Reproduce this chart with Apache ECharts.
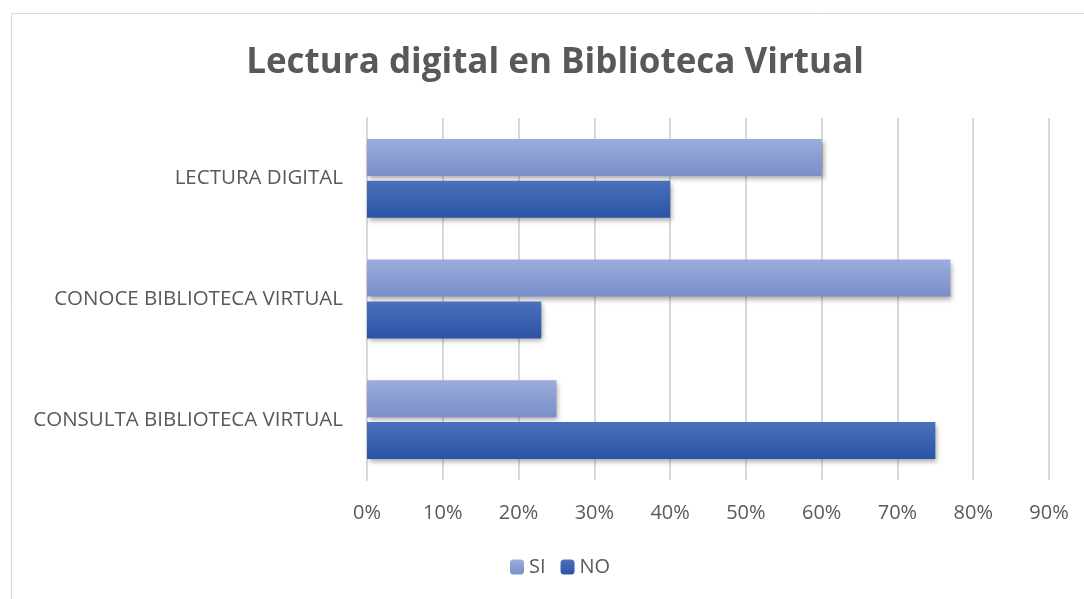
<!DOCTYPE html>
<html>
<head>
<meta charset="utf-8">
<script src="https://cdn.jsdelivr.net/npm/echarts@6/dist/echarts.min.js"></script>
<style>
  html, body { margin: 0; padding: 0; background: #fff; }
  #chart { width: 1084px; height: 599px; }
</style>
</head>
<body>
<div id="chart"></div>
<script>
const categories = ['CONSULTA BIBLIOTECA VIRTUAL', 'CONOCE BIBLIOTECA VIRTUAL', 'LECTURA DIGITAL'];
const siValues = [25, 77, 60];
const noValues = [75, 23, 40];
const xTicks = [0, 10, 20, 30, 40, 50, 60, 70, 80, 90];

document.addEventListener('DOMContentLoaded', function() {
    const chart = echarts.init(document.getElementById('chart'));
    const font = '"Open Sans", "Noto Sans", sans-serif';

    const grad = (top, bottom) => new echarts.graphic.LinearGradient(0, 0, 0, 1, [
        { offset: 0, color: top },
        { offset: 1, color: bottom }
    ]);

    const barStyle = (top, bottom) => ({
        color: grad(top, bottom),
        shadowBlur: 5,
        shadowOffsetX: 2,
        shadowOffsetY: 3,
        shadowColor: 'rgba(0,0,0,0.35)'
    });

    let option = {
        animation: false,
        backgroundColor: '#fff',
        graphic: [{
            type: 'rect',
            shape: { x: 11.5, y: 13.5, width: 1100, height: 620 },
            style: { fill: 'none', stroke: '#d9d9d9', lineWidth: 1 },
            silent: true
        }],
        title: {
            text: 'Lectura digital en Biblioteca Virtual',
            left: 550,
            textAlign: 'center',
            top: 41,
            textStyle: {
                fontFamily: font,
                fontSize: 35,
                fontWeight: 'bold',
                color: '#595959'
            }
        },
        legend: {
            data: ['SI', 'NO'],
            left: 505,
            top: 552,
            itemWidth: 14,
            itemHeight: 15,
            itemGap: 15,
            textStyle: { fontFamily: font, fontSize: 20, color: '#595959' }
        },
        grid: {
            left: 367,
            right: 35,
            top: 118,
            bottom: 119,
            containLabel: false
        },
        xAxis: {
            type: 'value',
            min: 0,
            max: xTicks[xTicks.length - 1],
            interval: 10,
            axisLine: { show: false },
            axisTick: { show: false },
            splitLine: { lineStyle: { color: '#d9d9d9', width: 2 } },
            axisLabel: {
                formatter: '{value}%',
                margin: 23,
                fontFamily: font,
                fontSize: 20,
                color: '#595959'
            }
        },
        yAxis: {
            type: 'category',
            data: categories,
            axisLine: { lineStyle: { color: '#d9d9d9', width: 2 } },
            axisTick: { show: false },
            axisLabel: {
                margin: 24,
                fontFamily: font,
                fontSize: 20.5,
                color: '#595959'
            }
        },
        series: [
            {
                name: 'SI',
                type: 'bar',
                data: siValues,
                barWidth: 37,
                barGap: '13%',
                itemStyle: barStyle('#9bacdc', '#7a8fca')
            },
            {
                name: 'NO',
                type: 'bar',
                data: noValues,
                barWidth: 37,
                itemStyle: barStyle('#4b70bb', '#2b54a6')
            }
        ]
    };

    chart.setOption(option);

    window.addEventListener('resize', () => {
        chart.resize();
    });
});
</script>
</body>
</html>
